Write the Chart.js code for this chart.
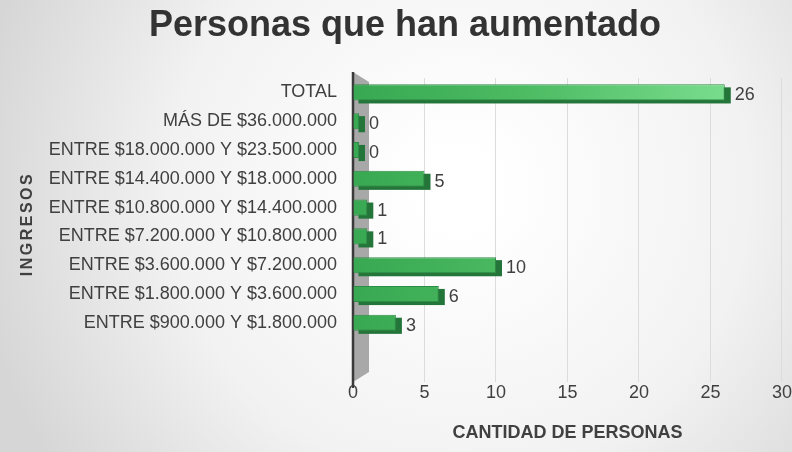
<!DOCTYPE html>
<html>
<head>
<meta charset="utf-8">
<script src="https://cdn.jsdelivr.net/npm/chart.js@4"></script>
<style>
  html, body { margin: 0; padding: 0; background: #e6e6e6; }
  canvas { display: block; }
</style>
</head>
<body>
<canvas id="ingresosChart" width="792" height="452"></canvas>
<script>
// rangos de ingresos (de arriba hacia abajo) y cantidad de personas
const categorias = [
    'TOTAL',
    'MÁS DE $36.000.000',
    'ENTRE $18.000.000 Y $23.500.000',
    'ENTRE $14.400.000 Y $18.000.000',
    'ENTRE $10.800.000 Y $14.400.000',
    'ENTRE $7.200.000 Y $10.800.000',
    'ENTRE $3.600.000 Y $7.200.000',
    'ENTRE $1.800.000 Y $3.600.000',
    'ENTRE $900.000 Y $1.800.000',
    ''
];
const personas = [26, 0, 0, 5, 1, 1, 10, 6, 3, null];
const ticksX = [0, 5, 10, 15, 20, 25, 30];

const textColor = '#404040';
const fontFamily = '"Liberation Sans", Arial, sans-serif';

// fondo con degradado radial
const fondo = {
    id: 'fondo',
    beforeDraw(chart) {
        const { ctx, width, height } = chart;
        const g = ctx.createRadialGradient(width * 0.58, height * 0.42, 40, width * 0.58, height * 0.42, width * 0.62);
        g.addColorStop(0, '#ffffff');
        g.addColorStop(0.55, '#f2f2f2');
        g.addColorStop(1, '#d6d6d6');
        ctx.save();
        ctx.fillStyle = g;
        ctx.fillRect(0, 0, width, height);
        ctx.restore();
    }
};

// pared gris, eje, sombra de las barras (efecto 3D), títulos y etiquetas
const efecto3d = {
    id: 'efecto3d',
    beforeDatasetsDraw(chart) {
        const { ctx, chartArea } = chart;
        const l = chartArea.left;
        ctx.save();
        ctx.fillStyle = '#a8a8a8';
        ctx.beginPath();
        ctx.moveTo(l, chartArea.top - 6);
        ctx.lineTo(l + 16, chartArea.top + 4);
        ctx.lineTo(l + 16, chartArea.bottom + 6);
        ctx.lineTo(l, chartArea.bottom + 16);
        ctx.closePath();
        ctx.fill();
        ctx.strokeStyle = '#3a3a3a';
        ctx.lineWidth = 2.5;
        ctx.beginPath();
        ctx.moveTo(l, chartArea.top - 6);
        ctx.lineTo(l, chartArea.bottom + 22);
        ctx.stroke();
        chart.getDatasetMeta(0).data.forEach((bar, i) => {
            if (personas[i] === null) return;
            const h = bar.height;
            ctx.fillStyle = '#24753a';
            ctx.fillRect(bar.base + 5, bar.y - h / 2 + 3, bar.x - bar.base + 1, h);
        });
        ctx.restore();
    },
    afterDatasetsDraw(chart) {
        const { ctx, chartArea } = chart;
        ctx.save();
        ctx.font = '18px ' + fontFamily;
        ctx.fillStyle = textColor;
        ctx.textBaseline = 'middle';
        chart.getDatasetMeta(0).data.forEach((bar, i) => {
            if (personas[i] === null) return;
            ctx.fillText(String(personas[i]), bar.x + 10, bar.y + 3);
        });
        // título principal
        ctx.font = 'bold 36px ' + fontFamily;
        ctx.fillStyle = '#333333';
        ctx.textAlign = 'center';
        ctx.fillText('Personas que han aumentado', 405, 26);
        // título del eje vertical
        ctx.fillStyle = textColor;
        ctx.font = 'bold 16px ' + fontFamily;
        ctx.letterSpacing = '2.5px';
        ctx.translate(28, (chartArea.top + chartArea.bottom) / 2 + 2);
        ctx.rotate(-Math.PI / 2);
        ctx.fillText('INGRESOS', 0, 0);
        ctx.restore();
    }
};

new Chart(document.getElementById('ingresosChart'), {
    type: 'bar',
    data: {
        labels: categorias,
        datasets: [{
            data: personas,
            backgroundColor: (c) => {
                const area = c.chart.chartArea;
                if (!area) return '#45b35e';
                const g = c.chart.ctx.createLinearGradient(area.left, 0, area.right, 0);
                g.addColorStop(0, '#38a852');
                g.addColorStop(0.4, '#4cbb62');
                g.addColorStop(1, '#86e69a');
                return g;
            },
            borderColor: '#2e8d45',
            borderWidth: 1,
            barPercentage: 0.56,
            categoryPercentage: 1,
            minBarLength: 6
        }]
    },
    options: {
        indexAxis: 'y',
        responsive: false,
        animation: false,
        layout: { padding: { left: 0, right: 9, top: 78, bottom: 0 } },
        plugins: {
            legend: { display: false },
            tooltip: { enabled: false },
            title: { display: false }
        },
        scales: {
            x: {
                min: 0,
                max: 30,
                afterBuildTicks: (s) => { s.ticks = ticksX.map(v => ({ value: v })); },
                afterFit: (s) => { s.height = 86; },
                ticks: { color: textColor, font: { family: fontFamily, size: 18 }, padding: 0 },
                grid: { color: '#dcdcdc', drawTicks: true, tickLength: 16 },
                border: { display: false },
                title: {
                    display: true,
                    text: 'CANTIDAD DE PERSONAS',
                    color: textColor,
                    font: { family: fontFamily, size: 18, weight: 'bold' },
                    padding: { top: 13, bottom: 8 }
                }
            },
            y: {
                afterFit: (s) => { s.width = 353; },
                ticks: { color: textColor, font: { family: fontFamily, size: 18 }, padding: 8 },
                grid: { display: false },
                border: { display: false }
            }
        }
    },
    plugins: [fondo, efecto3d]
});
</script>
</body>
</html>
